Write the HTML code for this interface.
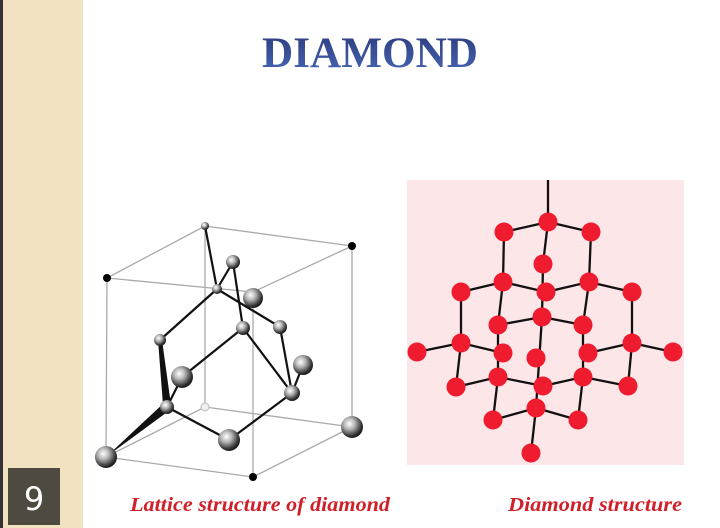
<!DOCTYPE html>
<html><head><style>
html,body{margin:0;padding:0;width:720px;height:528px;overflow:hidden;background:#fff;}
</style></head><body>
<svg width="720" height="528" viewBox="0 0 720 528" xmlns="http://www.w3.org/2000/svg">
<defs>
<radialGradient id="g" cx="0.38" cy="0.35" r="0.7">
<stop offset="0" stop-color="#ffffff"/><stop offset="0.35" stop-color="#b8b8b8"/><stop offset="0.8" stop-color="#333"/><stop offset="1" stop-color="#111"/>
</radialGradient>
<linearGradient id="tg" x1="0" y1="0" x2="0" y2="1">
<stop offset="0" stop-color="#2a3a7a"/><stop offset="1" stop-color="#4a68b8"/>
</linearGradient>
</defs>
<rect x="0" y="0" width="720" height="528" fill="#fff"/>
<rect x="0" y="0" width="3" height="528" fill="#333"/>
<rect x="3" y="0" width="80" height="528" fill="#f2e2c2"/>
<rect x="8" y="468" width="52" height="57" fill="#4f4a40"/>
<text x="34" y="510" font-family="DejaVu Sans, sans-serif" font-size="32" fill="#fff" text-anchor="middle">9</text>
<text x="262" y="67" font-family="Liberation Serif, serif" font-weight="bold" font-size="43" fill="url(#tg)" textLength="216" lengthAdjust="spacingAndGlyphs">DIAMOND</text>

<!-- cube -->
<g stroke="#aaa" stroke-width="1.3" fill="none">
<line x1="107" y1="278" x2="253" y2="292"/><line x1="107" y1="278" x2="205" y2="226"/>
<line x1="205" y1="226" x2="352" y2="246"/><line x1="352" y1="246" x2="253" y2="292"/>
<line x1="107" y1="278" x2="106" y2="457"/><line x1="253" y1="292" x2="253" y2="477"/>
<line x1="352" y1="246" x2="352" y2="427"/><line x1="205" y1="226" x2="205" y2="407"/>
<line x1="106" y1="457" x2="253" y2="477"/><line x1="253" y1="477" x2="352" y2="427"/>
<line x1="106" y1="457" x2="205" y2="407"/><line x1="205" y1="407" x2="352" y2="427"/>
</g>
<g stroke="#111" stroke-width="2.2" fill="none">
<line x1="205" y1="226" x2="217" y2="289"/><line x1="233" y1="262" x2="217" y2="289"/>
<line x1="233" y1="262" x2="243" y2="328"/><line x1="217" y1="289" x2="280" y2="327"/>
<line x1="217" y1="289" x2="160" y2="340"/><line x1="243" y1="328" x2="182" y2="377"/>
<line x1="243" y1="328" x2="292" y2="393"/><line x1="280" y1="327" x2="292" y2="393"/>
<line x1="303" y1="365" x2="292" y2="393"/><line x1="292" y1="393" x2="229" y2="440"/>
<line x1="229" y1="440" x2="167" y2="407"/><line x1="167" y1="407" x2="160" y2="340"/>
<line x1="167" y1="407" x2="182" y2="377"/>
</g>
<polygon points="106,457 165,402 170,410" fill="#111"/>
<polygon points="163,405 158,340 162,340 171,405" fill="#111"/>
<g fill="url(#g)">
<circle cx="205" cy="226" r="4"/><circle cx="233" cy="262" r="7"/><circle cx="217" cy="289" r="5"/>
<circle cx="253" cy="298" r="10"/><circle cx="280" cy="327" r="7"/><circle cx="243" cy="328" r="7"/>
<circle cx="160" cy="340" r="6"/><circle cx="303" cy="365" r="10"/><circle cx="182" cy="377" r="11"/>
<circle cx="292" cy="393" r="8"/><circle cx="167" cy="407" r="7"/><circle cx="229" cy="440" r="11"/>
<circle cx="352" cy="427" r="11"/><circle cx="106" cy="457" r="11"/>
</g>
<circle cx="205" cy="407" r="4" fill="#eee" stroke="#bbb"/>
<circle cx="107" cy="278" r="4" fill="#000"/><circle cx="352" cy="246" r="4" fill="#000"/><circle cx="253" cy="477" r="4" fill="#000"/>

<!-- right structure -->
<rect x="407" y="180" width="277" height="285" fill="#fde6e8"/>
<g stroke="#111" stroke-width="2.3">
<line x1="548" y1="180" x2="548" y2="222"/>
<line x1="548" y1="222" x2="504" y2="232"/><line x1="548" y1="222" x2="591" y2="232"/><line x1="548" y1="222" x2="543" y2="264"/>
<line x1="504" y1="232" x2="503" y2="282"/><line x1="591" y1="232" x2="589" y2="282"/>
<line x1="503" y1="282" x2="461" y2="292"/><line x1="503" y1="282" x2="546" y2="292"/><line x1="546" y1="292" x2="589" y2="282"/>
<line x1="589" y1="282" x2="632" y2="292"/><line x1="543" y1="264" x2="542" y2="317"/>
<line x1="461" y1="292" x2="461" y2="343"/><line x1="503" y1="282" x2="498" y2="325"/><line x1="589" y1="282" x2="583" y2="325"/>
<line x1="542" y1="317" x2="498" y2="325"/><line x1="542" y1="317" x2="583" y2="325"/><line x1="542" y1="317" x2="536" y2="408"/>
<line x1="632" y1="292" x2="632" y2="343"/>
<line x1="461" y1="343" x2="417" y2="352"/><line x1="461" y1="343" x2="503" y2="353"/><line x1="461" y1="343" x2="456" y2="387"/>
<line x1="632" y1="343" x2="673" y2="352"/><line x1="632" y1="343" x2="588" y2="353"/><line x1="632" y1="343" x2="628" y2="386"/>
<line x1="498" y1="325" x2="498" y2="377"/><line x1="583" y1="325" x2="583" y2="377"/>
<line x1="456" y1="387" x2="498" y2="377"/><line x1="498" y1="377" x2="543" y2="386"/><line x1="543" y1="386" x2="583" y2="377"/><line x1="583" y1="377" x2="628" y2="386"/>
<line x1="498" y1="377" x2="493" y2="420"/><line x1="583" y1="377" x2="578" y2="420"/>
<line x1="493" y1="420" x2="536" y2="408"/><line x1="536" y1="408" x2="578" y2="420"/><line x1="536" y1="408" x2="531" y2="453"/>
</g>
<g fill="#ee1c2e">
<circle cx="548" cy="222" r="9.5"/><circle cx="504" cy="232" r="9.5"/><circle cx="591" cy="232" r="9.5"/>
<circle cx="543" cy="264" r="9.5"/><circle cx="503" cy="282" r="9.5"/><circle cx="589" cy="282" r="9.5"/>
<circle cx="461" cy="292" r="9.5"/><circle cx="546" cy="292" r="9.5"/><circle cx="632" cy="292" r="9.5"/>
<circle cx="542" cy="317" r="9.5"/><circle cx="498" cy="325" r="9.5"/><circle cx="583" cy="325" r="9.5"/>
<circle cx="461" cy="343" r="9.5"/><circle cx="632" cy="343" r="9.5"/><circle cx="417" cy="352" r="9.5"/>
<circle cx="503" cy="353" r="9.5"/><circle cx="588" cy="353" r="9.5"/><circle cx="536" cy="358" r="9.5"/>
<circle cx="673" cy="352" r="9.5"/><circle cx="456" cy="387" r="9.5"/><circle cx="498" cy="377" r="9.5"/>
<circle cx="583" cy="377" r="9.5"/><circle cx="543" cy="386" r="9.5"/><circle cx="628" cy="386" r="9.5"/>
<circle cx="493" cy="420" r="9.5"/><circle cx="536" cy="408" r="9.5"/><circle cx="578" cy="420" r="9.5"/>
<circle cx="531" cy="453" r="9.5"/>
</g>

<text x="130" y="511" font-family="Liberation Serif, serif" font-weight="bold" font-style="italic" font-size="20" fill="#d0202a" textLength="260" lengthAdjust="spacingAndGlyphs">Lattice structure of diamond</text>
<text x="508" y="511" font-family="Liberation Serif, serif" font-weight="bold" font-style="italic" font-size="20" fill="#d0202a" textLength="174" lengthAdjust="spacingAndGlyphs">Diamond structure</text>
</svg>
</body></html>
